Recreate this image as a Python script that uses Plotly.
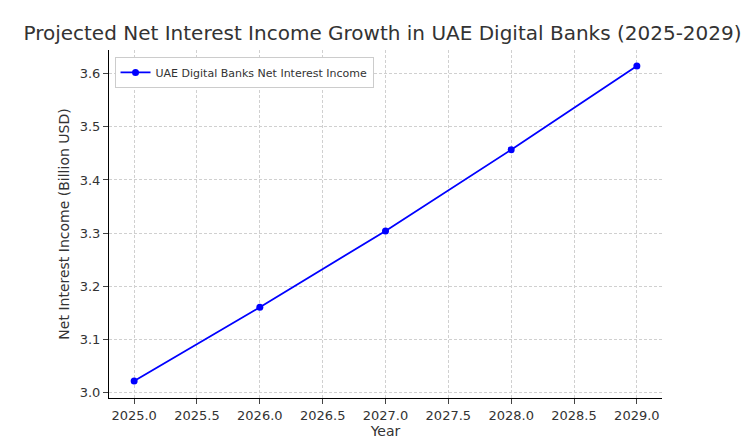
import plotly.graph_objects as go

years = [2025, 2026, 2027, 2028, 2029]
nii = [3.021, 3.160, 3.304, 3.457, 3.615]
series_name = "UAE Digital Banks Net Interest Income"

fig = go.Figure(go.Scatter(x=years, y=nii, mode="lines+markers", name=series_name,
                           line=dict(color="blue", width=1.8), marker=dict(color="blue", size=7)))
fig.update_layout(
    width=749, height=446, plot_bgcolor="white", paper_bgcolor="white",
    font=dict(family="DejaVu Sans", color="#333333", size=13),
    title=dict(text="Projected Net Interest Income Growth in UAE Digital Banks (2025-2029)",
               x=0.5, xanchor="center", y=0.96, font=dict(size=20)),
    margin=dict(l=101, r=95, t=42, b=56),
    showlegend=True,
    legend=dict(x=0.01, y=0.98, xanchor="left", yanchor="top", bgcolor="white",
                bordercolor="#cccccc", borderwidth=1, font=dict(size=11)),
)
grid = dict(showline=True, linecolor="black", ticks="outside", showgrid=True,
            gridcolor="#d0d0d0", griddash="3px,2px", gridwidth=0.7, zeroline=False)
fig.update_xaxes(title=dict(text="Year", standoff=4, font=dict(size=14)), range=[2024.8, 2029.2],
                 dtick=0.5, tickformat=".1f", **grid)
fig.update_yaxes(title=dict(text="Net Interest Income (Billion USD)", standoff=6, font=dict(size=14)),
                 range=[2.989, 3.645], dtick=0.1, tickformat=".1f", **grid)
fig.write_html("out.html")
